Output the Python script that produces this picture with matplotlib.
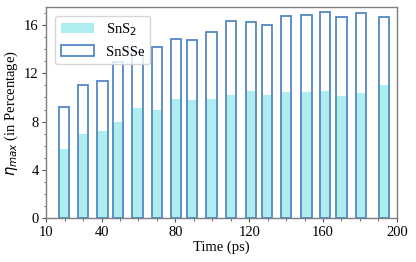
import matplotlib
matplotlib.use('Agg')
import matplotlib.pyplot as plt
from matplotlib.ticker import MultipleLocator

# Time (ps) of each bar pair
time_ps = [19.5, 30, 40.5, 49, 59.5, 70, 80.5, 89, 99.5, 110,
           121, 129.5, 140, 151, 161, 170, 180.5, 193]
# eta_max (%) for each material
sns2 = [5.74, 6.98, 7.23, 7.95, 9.16, 8.94, 9.88, 9.79, 9.85, 10.17,
        10.56, 10.16, 10.42, 10.47, 10.56, 10.11, 10.34, 11.03]
snsse = [9.19, 11.06, 11.39, 12.94, 13.74, 14.15, 14.82, 14.76, 15.40, 16.36,
         16.22, 16.03, 16.72, 16.85, 17.05, 16.64, 17.02, 16.64]
x_ticks = [10, 40, 80, 120, 160, 200]

plt.rcParams['font.family'] = ['Liberation Serif', 'DejaVu Serif']
plt.rcParams['mathtext.fontset'] = 'dejavusans'

fig = plt.figure(figsize=(4.16, 2.62), dpi=100)
ax = fig.add_axes([0.111, 0.167, 0.843, 0.807])

ax.bar(time_ps, sns2, width=5.6, color='#aeeeee', label='SnS$_2$', zorder=2)
ax.bar(time_ps, snsse, width=5.6, facecolor='none', edgecolor='#5289c6',
       linewidth=1.3, label='SnSSe', zorder=3)

ax.set_xlim(10, 200)
ax.set_ylim(0, 17.5)
ax.set_xticks(x_ticks)
ax.xaxis.set_minor_locator(MultipleLocator(10))
ax.set_yticks([0, 4, 8, 12, 16])
ax.yaxis.set_minor_locator(MultipleLocator(1))
ax.tick_params(labelsize=10.5, length=3, width=0.8, color='#555555', pad=2.5)
ax.tick_params(which='minor', length=1.8, width=0.6, color='#555555')

for s in ax.spines.values():
    s.set_color('#7f7f7f')
    s.set_linewidth(1.0)

ax.set_xlabel('Time (ps)', fontsize=10.5, labelpad=1)
ax.set_ylabel(r'$\eta_{max}$ (in Percentage)', fontsize=10.5, labelpad=3)

ax.legend(loc='upper left', fontsize=10.5, handlelength=2.3, borderaxespad=0.6)

fig.savefig('out.png', dpi=100)
